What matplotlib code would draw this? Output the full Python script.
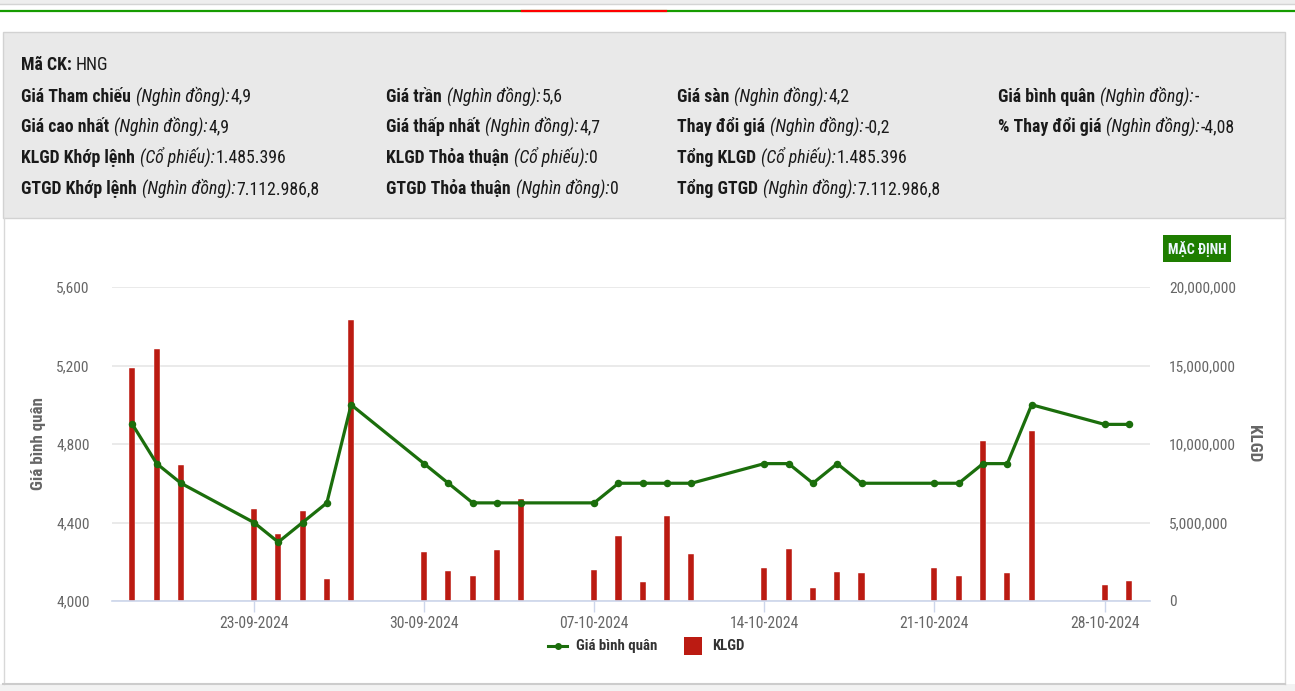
import matplotlib
matplotlib.use('Agg')
import matplotlib.pyplot as plt
import matplotlib.dates as mdates
from matplotlib import font_manager as fm
from matplotlib.patches import Rectangle
from matplotlib.lines import Line2D
from matplotlib.ticker import FuncFormatter, FixedLocator
import datetime as dt

# ---------------- data ----------------
dates = ['18-09-2024', '19-09-2024', '20-09-2024', '23-09-2024', '24-09-2024',
         '25-09-2024', '26-09-2024', '27-09-2024', '30-09-2024', '01-10-2024',
         '02-10-2024', '03-10-2024', '04-10-2024', '07-10-2024', '08-10-2024',
         '09-10-2024', '10-10-2024', '11-10-2024', '14-10-2024', '15-10-2024',
         '16-10-2024', '17-10-2024', '18-10-2024', '21-10-2024', '22-10-2024',
         '23-10-2024', '24-10-2024', '25-10-2024', '28-10-2024', '29-10-2024']
gia_binh_quan = [4900, 4700, 4600, 4400, 4300, 4400, 4500, 5000, 4700, 4600,
                 4500, 4500, 4500, 4500, 4600, 4600, 4600, 4600, 4700, 4700,
                 4600, 4700, 4600, 4600, 4600, 4700, 4700, 5000, 4900, 4900]
klgd = [14860000, 16070000, 8680000, 5840000, 4270000, 5750000, 1420000, 17900000,
        3140000, 1930000, 1570000, 3230000, 6520000, 1960000, 4140000, 1190000,
        5410000, 2990000, 2120000, 3330000, 810000, 1870000, 1780000, 2120000,
        1610000, 10190000, 1780000, 10800000, 1000000, 1250000]
xtick_labels = ['23-09-2024', '30-09-2024', '07-10-2024', '14-10-2024', '21-10-2024', '28-10-2024']
left_ticks = [4000, 4400, 4800, 5200, 5600]
right_ticks = [0, 5000000, 10000000, 15000000, 20000000]

header_title = ('Mã CK:', 'HNG')
header_rows = [
    # (column, row, label, unit, value)
    (0, 1, 'Giá Tham chiếu', '(Nghìn đồng):', '4,9'),
    (0, 2, 'Giá cao nhất', '(Nghìn đồng):', '4,9'),
    (0, 3, 'KLGD Khớp lệnh', '(Cổ phiếu):', '1.485.396'),
    (0, 4, 'GTGD Khớp lệnh', '(Nghìn đồng):', '7.112.986,8'),
    (1, 1, 'Giá trần', '(Nghìn đồng):', '5,6'),
    (1, 2, 'Giá thấp nhất', '(Nghìn đồng):', '4,7'),
    (1, 3, 'KLGD Thỏa thuận', '(Cổ phiếu):', '0'),
    (1, 4, 'GTGD Thỏa thuận', '(Nghìn đồng):', '0'),
    (2, 1, 'Giá sàn', '(Nghìn đồng):', '4,2'),
    (2, 2, 'Thay đổi giá', '(Nghìn đồng):', '-0,2'),
    (2, 3, 'Tổng KLGD', '(Cổ phiếu):', '1.485.396'),
    (2, 4, 'Tổng GTGD', '(Nghìn đồng):', '7.112.986,8'),
    (3, 1, 'Giá bình quân', '(Nghìn đồng):', '-'),
    (3, 2, '% Thay đổi giá', '(Nghìn đồng):', '-4,08'),
]
series_names = ['Giá bình quân', 'KLGD']
button_text = 'MẶC ĐỊNH'

# ---------------- fonts ----------------
W, H = 1295, 691
entries = fm.fontManager.ttflist
names = {f.name for f in entries}
STRETCH = 'normal'
FAMILY = None
for cand in ['Liberation Sans Narrow', 'Roboto Condensed', 'Open Sans Condensed',
             'Noto Sans Condensed', 'Arial Narrow']:
    if cand in names:
        FAMILY = cand
        break
if FAMILY is None:
    for f in entries:
        st = str(f.stretch).lower()
        if f.name in ('DejaVu Sans', 'Noto Sans', 'Open Sans', 'Roboto') and 'condensed' in st:
            FAMILY, STRETCH = f.name, 'condensed'
            break
if FAMILY is None:
    FAMILY = 'Liberation Sans'
plt.rcParams['font.family'] = [FAMILY, 'DejaVu Sans']
plt.rcParams['font.stretch'] = STRETCH

LINE_C = '#1b6e0c'
BAR_C = '#bb1b12'
GRID_C = '#e6e6e6'
AXIS_C = '#ccd6eb'
LABEL_C = '#666666'
TEXT_C = '#1a1a1a'

fig = plt.figure(figsize=(W / 100, H / 100), dpi=100)
fig.patch.set_facecolor('white')
renderer = fig.canvas.get_renderer()


def fx(x):
    return x / W


def fy(y):
    return 1 - y / H


def measure(s, size, weight='normal', style='normal'):
    t = fig.text(0, 0, s, fontsize=size, fontweight=weight, fontstyle=style)
    w = t.get_window_extent(renderer).width
    t.remove()
    return w


def fit(s, target, nominal, weight='normal', style='normal', lo=0.8, hi=1.2):
    w = measure(s, nominal, weight, style)
    k = max(lo, min(hi, target / w))
    return nominal * k


def rect(x0, y0, x1, y1, **kw):
    r = Rectangle((fx(x0), fy(y1)), (x1 - x0) / W, (y1 - y0) / H,
                  transform=fig.transFigure, **kw)
    fig.add_artist(r)
    return r


def hline(x0, x1, y, **kw):
    fig.add_artist(Line2D([fx(x0), fx(x1)], [fy(y), fy(y)], transform=fig.transFigure, **kw))


def vline(x, y0, y1, **kw):
    fig.add_artist(Line2D([fx(x), fx(x)], [fy(y0), fy(y1)], transform=fig.transFigure, **kw))


# top decoration
rect(0, 0, W, 4, facecolor='#eeeeee', edgecolor='none', zorder=0)
hline(0, W, 4, color='#d4d4d4', lw=1)
hline(0, W, 10.5, color='#169c00', lw=1.6)
hline(522, 666, 10.5, color='#ff0000', lw=1.6)

# header panel
rect(3, 32, 1285, 218, facecolor='#e9e9e9', edgecolor='#d2d2d2', lw=1, zorder=0)
vline(3.5, 218, 684, color='#d8d8d8', lw=1)
vline(1285, 218, 684, color='#d8d8d8', lw=1)
rect(0, 684, W, H, facecolor='#f2f2f2', edgecolor='none', zorder=0)
hline(3, 1285, 684, color='#cccccc', lw=1.5)

# header size fitted so that the first row spans as in the reference (~230 px)
_w = (measure('Giá Tham chiếu', 12, 'bold') + 5 + measure('(Nghìn đồng):', 12, 'normal', 'italic')
      + 1 + measure('4,9', 12))
HS = 12 * max(0.85, min(1.1, 230 / _w))


def rich(x, y, parts):
    for s, weight, style, gap in parts:
        t = fig.text(fx(x), fy(y), s, fontsize=HS, fontweight=weight, fontstyle=style,
                     color=TEXT_C, va='baseline', ha='left')
        bb = t.get_window_extent(renderer)
        x = bb.x1 + gap


col_x = [21, 386, 677, 998]
row_y = [69.5, 101.5, 132, 163, 194]
rich(col_x[0], row_y[0], [(header_title[0], 'bold', 'normal', 4), (header_title[1], 'normal', 'normal', 0)])
for c, r, lab, unit, val in header_rows:
    rich(col_x[c], row_y[r], [(lab, 'bold', 'normal', 5), (unit, 'normal', 'italic', 1),
                              (val, 'normal', 'normal', 0)])

# button
rect(1163, 235, 1231, 262, facecolor='#1e7d00', edgecolor='none')
fig.text(fx(1197), fy(249.5), button_text, ha='center', va='center', color='#eef8ff',
         fontsize=10, fontweight='bold')

# ---------------- chart ----------------
X0, X1, YT, YB = 112, 1150, 287, 601
ax2 = fig.add_axes([fx(X0), fy(YB), (X1 - X0) / W, (YB - YT) / H])
ax = ax2.twinx()
ax.set_zorder(ax2.get_zorder() + 1)
ax.patch.set_visible(False)

xd = [mdates.date2num(dt.datetime.strptime(d, '%d-%m-%Y')) for d in dates]
ax2.bar(xd, klgd, width=0.25, color=BAR_C, edgecolor='white', linewidth=0.3, zorder=3)
ax.plot(xd, gia_binh_quan, color=LINE_C, lw=2.3, marker='o', markersize=4.4, zorder=4)

ref = mdates.date2num(dt.datetime(2024, 9, 23))
ax2.set_xlim(ref - 5.84, ref + 36.87)
ax2.set_ylim(0, 20000000)
ax.set_ylim(4000, 5600)

ax.yaxis.set_ticks_position('left')
ax.yaxis.set_label_position('left')
ax2.yaxis.set_ticks_position('right')
ax2.yaxis.set_label_position('right')

ax.yaxis.set_major_locator(FixedLocator(left_ticks))
ax.yaxis.set_major_formatter(FuncFormatter(lambda v, p: f'{int(v):,}'))
ax2.yaxis.set_major_locator(FixedLocator(right_ticks))
ax2.yaxis.set_major_formatter(FuncFormatter(lambda v, p: f'{int(v):,}'))

xt = [mdates.date2num(dt.datetime.strptime(d, '%d-%m-%Y')) for d in xtick_labels]
ax2.set_xticks(xt)
ax2.set_xticklabels(xtick_labels)

TS = fit('20,000,000', 66, 10)
XS = fit('23-09-2024', 69, 10)
ax2.grid(axis='y', color=GRID_C, lw=1.2, zorder=0)
ax2.set_axisbelow(True)
for a in (ax, ax2):
    for s in a.spines.values():
        s.set_visible(False)
ax2.spines['bottom'].set_visible(True)
ax2.spines['bottom'].set_color(AXIS_C)
ax2.spines['bottom'].set_linewidth(1.2)
ax2.spines['bottom'].set_zorder(5)

ax2.tick_params(axis='x', direction='out', length=8, width=1, color=AXIS_C,
                labelsize=XS, labelcolor=LABEL_C, pad=3)
ax.tick_params(axis='y', length=0, labelsize=TS, labelcolor=LABEL_C, pad=16)
ax2.tick_params(axis='y', length=0, labelsize=TS, labelcolor=LABEL_C, pad=13.5)
ax.tick_params(axis='x', length=0, labelbottom=False)

YS = fit(series_names[0], 93, 10.5, 'bold')
fig.text(fx(38), fy(444), series_names[0], rotation=90, ha='center', va='center',
         fontsize=YS, fontweight='bold', color=LABEL_C)
fig.text(fx(1254), fy(444), series_names[1], rotation=270, ha='center', va='center',
         fontsize=YS, fontweight='bold', color=LABEL_C)

# legend
LS = fit(series_names[0], 81, 10, 'bold')
hline(548, 567, 646, color=LINE_C, lw=2.2)
fig.add_artist(Line2D([fx(557.5)], [fy(646)], marker='o', markersize=4, color=LINE_C,
                      transform=fig.transFigure))
fig.text(fx(576), fy(646), series_names[0], ha='left', va='center', fontsize=LS,
         fontweight='bold', color='#333333')
rect(684, 637, 702, 655, facecolor=BAR_C, edgecolor='none')
fig.text(fx(712), fy(646), series_names[1], ha='left', va='center', fontsize=LS,
         fontweight='bold', color='#333333')

fig.savefig('out.png', dpi=100, facecolor='white')
